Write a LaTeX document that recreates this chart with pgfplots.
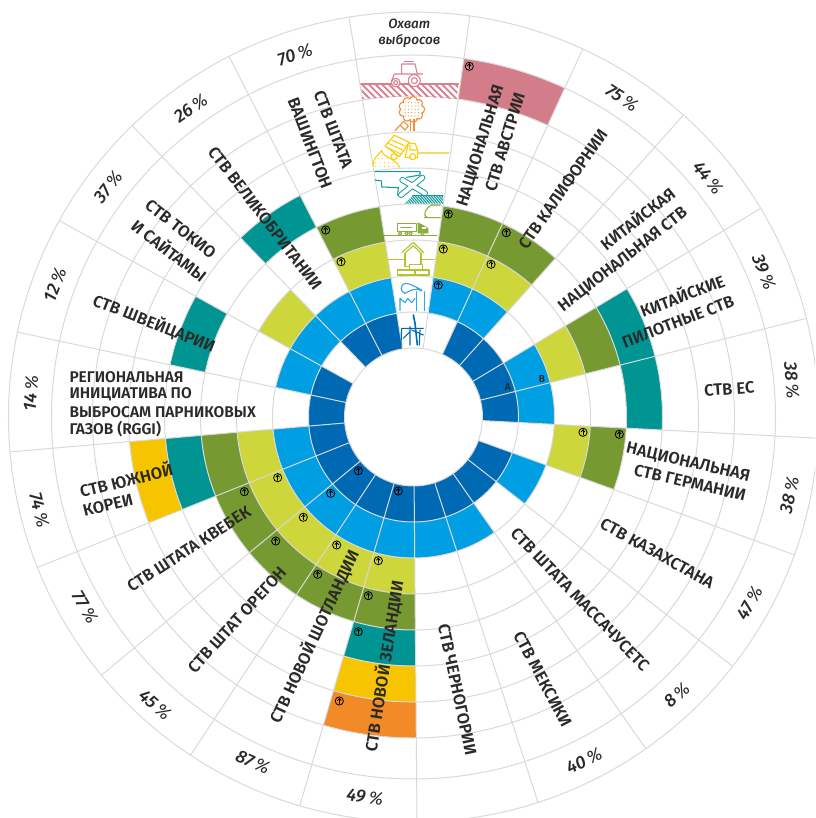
\documentclass[border=0pt]{standalone}
\usepackage{pgfplots}
\usepgfplotslibrary{polar}
\pgfplotsset{compat=1.18}
\usepackage{fontspec}
\setmainfont{Fira Sans}[BoldFont={Fira Sans SemiBold},ItalicFont={Fira Sans Italic},BoldItalicFont={Fira Sans Medium Italic}]
\definecolor{cA}{HTML}{0069B4}
\definecolor{cB}{HTML}{009FE3}
\definecolor{cC}{HTML}{CDD63A}
\definecolor{cD}{HTML}{769A31}
\definecolor{cE}{HTML}{009593}
\definecolor{cF}{HTML}{F7C500}
\definecolor{cG}{HTML}{F28A27}
\definecolor{cH}{HTML}{D47D8A}
\definecolor{gridc}{HTML}{D9D9D9}
\definecolor{txt}{HTML}{2B2A29}
\definecolor{iTr}{HTML}{D9808E}
\definecolor{iTree}{HTML}{F0903A}
\definecolor{iY}{HTML}{FFCC00}
\definecolor{iY2}{HTML}{F7D96B}
\definecolor{iT}{HTML}{139C9C}
\definecolor{iO}{HTML}{8DAD3B}
\definecolor{iH}{HTML}{B3C42E}
\definecolor{iB}{HTML}{2FA8E2}
\pgfdeclareplotmark{carr}{%
  \pgfsetlinewidth{0.8pt}\pgfsetroundcap
  \pgfpathcircle{\pgfpointorigin}{4.1pt}\pgfusepathqstroke
  \pgfpathmoveto{\pgfqpoint{0pt}{-2.5pt}}\pgfpathlineto{\pgfqpoint{0pt}{2.5pt}}\pgfusepathqstroke
  \pgfpathmoveto{\pgfqpoint{-1.8pt}{0.5pt}}\pgfpathlineto{\pgfqpoint{0pt}{2.5pt}}\pgfpathlineto{\pgfqpoint{1.8pt}{0.5pt}}\pgfusepathqstroke}
% clockwise angles of the sector boundaries
\def\bnd{{-9.15,8,24.7,41.8,59,75.9,93,109.9,128,145,162.1,179.5,196.3,213.4,230.4,248.2,265.05,282.1,299,316,332.9,350.85}}
% one cell of the wheel: sector k, ring i, colour
\newcommand{\cell}[3]{%
  \pgfmathsetmacro{\aO}{90-\bnd[#1]}%
  \pgfmathsetmacro{\aIV}{90-\bnd[#1+1]}%
  \pgfmathsetmacro{\aI}{\aO+(\aIV-\aO)/4}%
  \pgfmathsetmacro{\aII}{\aO+(\aIV-\aO)/2}%
  \pgfmathsetmacro{\aIII}{\aO+(\aIV-\aO)*3/4}%
  \pgfmathsetmacro{\ri}{{0,69,105,141,177,213,249,285,321,362}[#2]}%
  \pgfmathsetmacro{\ro}{{0,69,105,141,177,213,249,285,321,362}[#2+1]}%
  \edef\temp{\noexpand\addplot[fill=#3,draw=none,forget plot] coordinates {(\aO,\ri)(\aI,\ri)(\aII,\ri)(\aIII,\ri)(\aIV,\ri)(\aIV,\ro)(\aIII,\ro)(\aII,\ro)(\aI,\ro)(\aO,\ro)};}\temp}
\newcommand{\LB}[4]{\node[rotate=#3,font=\bfseries\fontsize{16.5}{18}\selectfont,text=txt,inner sep=0pt] at (#1,#2) {#4};}
\newcommand{\PC}[4]{\node[rotate=#3,font=\fontsize{18}{20}\selectfont,text=txt,inner sep=0pt] at (#1,#2) {{\itshape\bfseries #4}\,{\itshape\%}};}
\begin{document}
\begin{tikzpicture}
\clip[use as bounding box] (0pt,0pt) rectangle (815pt,818pt);
\begin{polaraxis}[at={(413.5pt,401pt)},anchor=center,scale only axis,width=840pt,height=840pt,
  xmin=0,xmax=360,ymin=0,ymax=420,hide axis,clip=false]
\foreach \k in {2,3,4,5,7,8,9,10,11,12,13,14,15,16,17,19,20} {\cell{\k}{1}{cA}}
\foreach \k in {1,2,4,5,7,9,10,11,12,13,14,15,17,18,19,20} {\cell{\k}{2}{cB}}
\foreach \k in {1,2,4,6,11,12,13,14,15,18,20} {\cell{\k}{3}{cC}}
\foreach \k in {1,2,4,6,11,12,13,14,15,20} {\cell{\k}{4}{cD}}
\foreach \k in {4,5,11,15,17,19} {\cell{\k}{5}{cE}}
\foreach \k in {11,15} {\cell{\k}{6}{cF}}
\cell{11}{7}{cG}
\cell{1}{8}{cH}
\foreach \k in {0,...,20} {%
  \pgfmathsetmacro{\aO}{90-\bnd[\k]}%
  \edef\temp{\noexpand\addplot[gridc,line width=1pt,forget plot] coordinates {(\aO,69)(\aO,405)};}\temp}
\pgfplotsinvokeforeach{69,105,141,177,213,249,285,321,362,405}{\draw[gridc,line width=1pt] (axis cs:0,0) circle[radius=#1pt];}
% arrows in the cells, offsets from the centre of the wheel
\addplot[only marks,mark=carr,black,data cs=cart,forget plot] coordinates {
(24.8,132)(29.8,168)(34.8,203)(77.5,152.7)(92.8,184.3)(55.8,350.7)
(169.5,-15.3)(205.8,-17.3)
(-15.2,-74)(-55.2,-53.7)(-82.8,-76.3)
(-35.2,-143.7)(-76.8,-128)(-110.2,-100.3)(-135.8,-60.7)
(-45.2,-178.7)(-95.8,-157.3)(-137.8,-124)(-169.2,-74.7)
(-55.2,-214.7)(-74.2,-284)
(-87.8,187)(-72.5,155.3)};
\end{polaraxis}
\begin{scope}[x=1pt,y=-1pt,shift={(0pt,818pt)}]
\node[font=\bfseries\itshape\fontsize{13.5}{15}\selectfont,text=txt] at (409.3,24.3) {Охват};
\node[font=\bfseries\itshape\fontsize{13.5}{15}\selectfont,text=txt] at (409.3,41.3) {выбросов};
\node[font=\bfseries\fontsize{10}{12}\selectfont,text=txt,inner sep=0pt] at (507.7,386.7) {A};
\node[font=\bfseries\fontsize{10}{12}\selectfont,text=txt,inner sep=0pt] at (542,378.7) {B};
\LB{481}{146}{73}{НАЦИОНАЛЬНАЯ}
\LB{505}{142}{73}{СТВ АВСТРИИ}
\LB{563}{189}{55}{СТВ КАЛИФОРНИИ}
\LB{637}{218}{38}{КИТАЙСКАЯ}
\LB{623}{260}{38}{НАЦИОНАЛЬНАЯ СТВ}
\LB{682}{295}{21}{КИТАЙСКИЕ}
\LB{678}{322}{21}{ПИЛОТНЫЕ СТВ}
\LB{729.3}{389}{4}{СТВ ЕС}
\LB{688}{462.7}{-13}{НАЦИОНАЛЬНАЯ}
\LB{690}{482.7}{-13}{СТВ ГЕРМАНИИ}
\LB{657.3}{553.3}{-29}{СТВ КАЗАХСТАНА}
\LB{580}{599.3}{-46}{СТВ ШТАТА МАССАЧУСЕТС}
\LB{542.7}{679.3}{-62}{СТВ МЕКСИКИ}
\LB{457.3}{689.7}{-78}{СТВ ЧЕРНОГОРИИ}
\LB{384}{666}{81}{СТВ НОВОЙ ЗЕЛАНДИИ}
\LB{314}{636.7}{65}{СТВ НОВОЙ ШОТЛАНДИИ}
\LB{237}{620}{47.5}{СТВ ШТАТ ОРЕГОН}
\LB{189}{549}{33}{СТВ ШТАТА КВЕБЕК}
\LB{126}{479.3}{14}{СТВ ЮЖНОЙ}
\LB{108}{505}{14}{КОРЕИ}
\node[anchor=west,font=\bfseries\fontsize{15.5}{17}\selectfont,text=txt,inner sep=0pt] at (69.3,377) {РЕГИОНАЛЬНАЯ};
\node[anchor=west,font=\bfseries\fontsize{15.5}{17}\selectfont,text=txt,inner sep=0pt] at (69.3,394) {ИНИЦИАТИВА ПО};
\node[anchor=west,font=\bfseries\fontsize{15.5}{17}\selectfont,text=txt,inner sep=0pt] at (69.3,412) {ВЫБРОСАМ ПАРНИКОВЫХ};
\node[anchor=west,font=\bfseries\fontsize{15.5}{17}\selectfont,text=txt,inner sep=0pt] at (69.3,429) {ГАЗОВ (RGGI)};
\LB{154.3}{323.3}{-21.6}{СТВ ШВЕЙЦАРИИ}
\LB{180.7}{229.3}{-38}{СТВ ТОКИО}
\LB{169.7}{250}{-38}{И САЙТАМЫ}
\LB{265}{218.3}{-52.5}{СТВ ВЕЛИКОБРИТАНИИ}
\LB{333.3}{129.3}{-69}{СТВ ШТАТА}
\LB{310}{143.3}{-69}{ВАШИНГТОН}
\PC{622}{98}{-34.3}{75}
\PC{708}{178}{-51.4}{44}
\PC{764}{272}{-68.5}{39}
\PC{791.7}{380.7}{-85}{38}
\PC{789.3}{495}{77.7}{38}
\PC{749.3}{603.3}{60.6}{47}
\PC{676.7}{695}{43}{8}
\PC{584}{761}{26}{40}
\PC{365}{797}{-8}{49}
\PC{253}{762}{-25}{87}
\PC{155}{705}{-42}{45}
\PC{85}{607}{-59}{77}
\PC{39.3}{510}{-76}{74}
\PC{30.7}{393.3}{86}{14}
\PC{55}{285}{69}{12}
\PC{108}{187}{52}{37}
\PC{190.7}{108.3}{35}{26}
\PC{295}{55}{18}{70}
\end{scope}
% icons of the emission-coverage column, in 3x zoom coordinates
\begin{scope}[x=0.33333pt,y=-0.33333pt,shift={(355pt,758pt)},line cap=round,line join=round]
 \begin{scope}
 \clip (18,72)--(310,72)--(305,117)--(165,108)--(22,117)--cycle;
 \foreach \x in {-20,0,...,300} {\draw[iTr,line width=1.8pt] (\x,72)--(\x+48,120);}
 \end{scope}
 \draw[iTr,line width=1.6pt] (18,72)--(310,72);
 \draw[iTr,line width=1.1pt,fill=white] (178,62) circle[radius=18];
 \draw[iTr,line width=1.1pt] (178,62) circle[radius=9];
 \draw[iTr,line width=1.1pt,fill=white] (122,68) circle[radius=13];
 \draw[iTr,line width=1.1pt] (122,68) circle[radius=6];
 \draw[iTr,line width=1.1pt] (110,62)--(118,42)--(203,42) (140,42)--(140,12)--(180,12)--(187,42) (135,72)--(160,72);
 \draw[iTr,line width=1.1pt] (148,5)--(175,5);
 % tree
 \foreach \a in {0,40,...,320} {\draw[iTree,line width=1.1pt] (170,148)+(\a:27) circle[radius=12];}
 \fill[white] (170,148) circle[radius=31];
 \foreach \x in {150,160,...,190} \foreach \y in {128,138,...,168} {\fill[iTree] (\x,\y) circle[radius=1.8];}
 \draw[iTree,line width=1.1pt] (167,178)--(167,212) (177,178)--(177,212);
 \draw[iTree,line width=1.1pt] (120,212)--(146,184)--(160,198)--(150,210)--(136,196);
 % dump truck
 \draw[iY,line width=1.1pt,fill=white] (90,258)--(118,226)--(163,247)--(133,290)--cycle;
 \draw[iY,line width=1pt] (100,250)--(143,270) (110,240)--(150,258) (95,262)--(137,282);
 \draw[iY,line width=1.1pt] (160,250)--(180,250)--(188,270)--(188,293)--(150,293)--(160,250) (165,255)--(165,270)--(185,270);
 \draw[iY,line width=1.1pt,fill=white] (117,290) circle[radius=9];
 \draw[iY,line width=1.1pt,fill=white] (173,290) circle[radius=9];
 \draw[iY2,line width=1.8pt] (190,278)--(282,278);
 \draw[iY,line width=1.1pt] (55,318) .. controls (52,298) and (65,290) .. (80,272) .. controls (85,295) and (125,295) .. (133,322);
 \foreach \x in {62,75,88,101,114} {\fill[iY] (\x,308) circle[radius=1.8];\fill[iY] (\x,320) circle[radius=1.8];}
 \foreach \x in {70,83,96} {\fill[iY] (\x,296) circle[radius=1.8];}
\end{scope}
\begin{scope}[x=0.33333pt,y=-0.33333pt,shift={(365pt,653pt)},line cap=round,line join=round]
 % plane and coast
 \draw[iT,line width=1.1pt] (30,20)--(165,20)--(165,30)--(125,37) (30,45)--(50,48)--(50,66)--(100,68)--(98,90)--(112,95);
 \draw[iT,line width=6pt] (108,90)--(172,38) (112,45)--(145,64)--(180,85);
 \draw[white,line width=4pt] (108,90)--(172,38) (112,45)--(145,64)--(180,85);
 \begin{scope}
 \clip (118,116)--(143,92)--(234,92)--(234,116)--cycle;
 \foreach \x in {100,108,...,240} {\draw[iT,line width=1.1pt] (\x,90)--(\x+24,118);}
 \end{scope}
 \draw[iT,line width=1.1pt] (143,92)--(234,92);
 % truck
 \draw[iO,line width=1.1pt] (178,158)--(226,158) (188,158) .. controls (170,150) and (182,130) .. (200,120)--(226,120);
 \draw[iO,line width=1.1pt] (97,175)--(155,175)--(155,200)--(97,200)--cycle;
 \draw[iO,line width=1.1pt] (108,187)--(140,187);
 \fill[iO] (158,172)--(175,180)--(190,190)--(190,205)--(158,205)--cycle;
 \fill[white] (172,185) rectangle (183,192);
 \foreach \x in {105,125,137,172} {\draw[iO,line width=1.1pt,fill=white] (\x,205) circle[radius=5];}
 \draw[iO,line width=1.4pt] (58,212)--(215,212);
 % house
 \draw[iH,line width=1.1pt] (110,263)--(145,232)--(176,263) (118,266)--(145,242)--(170,266);
 \draw[iH,line width=1.1pt] (120,265)--(120,305)--(133,305) (168,265)--(168,298);
 \draw[iH,line width=1.1pt] (72,283)--(120,283) (168,283)--(207,283);
 \draw[iH,line width=1.1pt] (133,298) rectangle (172,315);
 \draw[iH,line width=1.1pt] (97,315) rectangle (192,330) (150,315)--(150,330);
 % factory
 \draw[iB,line width=1.1pt] (155,380)--(155,437) (178,380)--(178,437);
 \draw[iB,line width=1.1pt] (105,437)--(105,400)--(120,413)--(128,400)--(140,413)--(150,400);
 \draw[iB,line width=1.1pt] (170,378) .. controls (150,365) and (135,378) .. (120,385) .. controls (105,380) and (105,360) .. (120,355) .. controls (135,355) and (150,365) .. (170,375);
 % wind turbines
 \draw[cA,line width=1.6pt] (145,450)--(150,475)--(157,540);
 \draw[cA,line width=1.1pt] (110,490)--(175,490) (110,490)--(108,540) (135,485)--(135,540) (165,495)--(163,540) (115,520)--(135,500) (140,495)--(175,510);
\end{scope}
\end{tikzpicture}
\end{document}
